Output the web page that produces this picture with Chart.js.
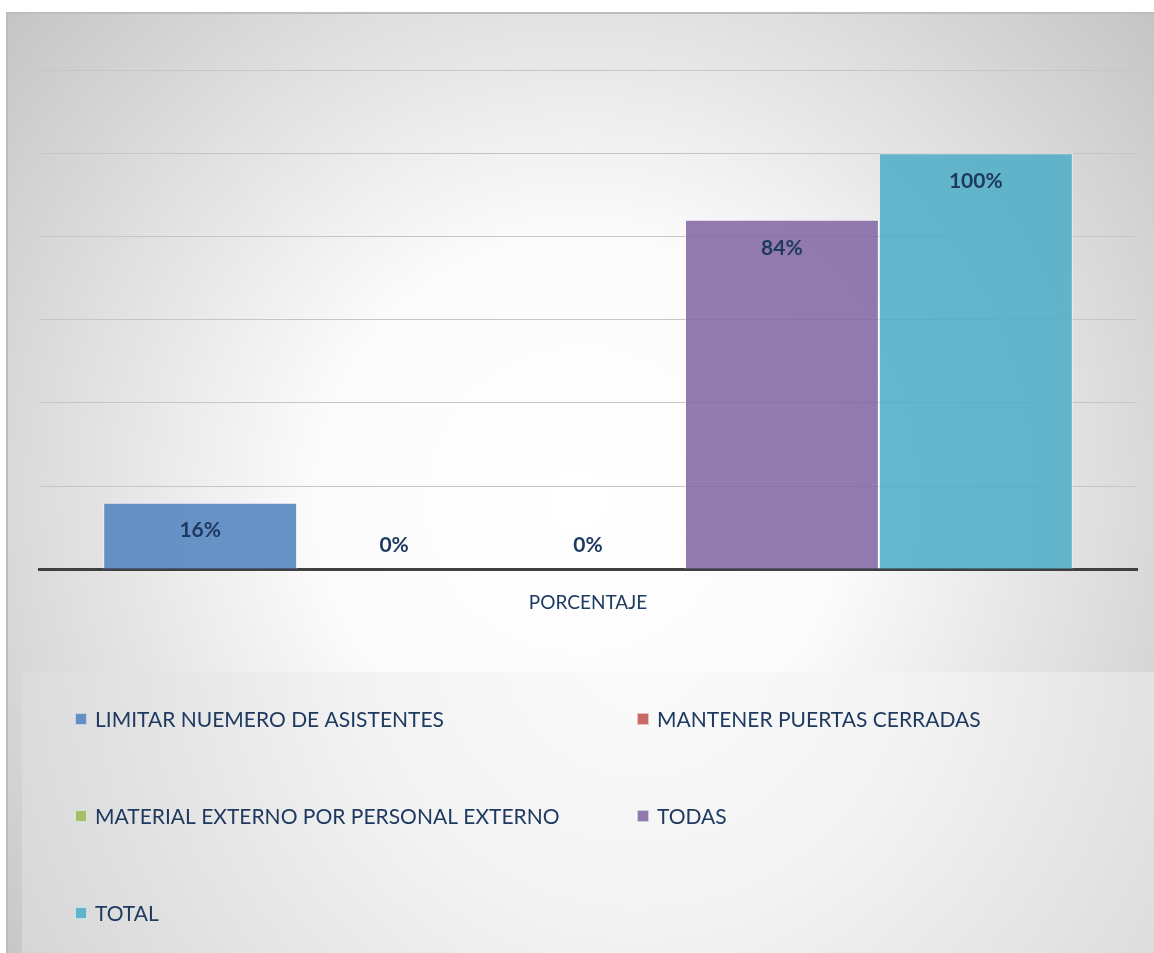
<!DOCTYPE html>
<html>
<head>
<meta charset="utf-8">
<script src="https://cdn.jsdelivr.net/npm/chart.js@4/dist/chart.umd.min.js"></script>
<style>
	html, body { margin: 0; padding: 0; background: #ffffff; }
	#wrap { width: 1154px; height: 953px; position: relative; }
</style>
</head>
<body>
<div id="wrap"><canvas id="chart"></canvas></div>
<script>
const categories = ["PORCENTAJE"];
const series_names = [
	"LIMITAR NUEMERO DE ASISTENTES",
	"MANTENER PUERTAS CERRADAS",
	"MATERIAL EXTERNO POR PERSONAL EXTERNO",
	"TODAS",
	"TOTAL",
];
const series_values = [16, 0, 0, 84, 100];
const series_colors = ["#4f81bd", "#c0504d", "#9bbb59", "#8064a2", "#4bacc6"];
const y_ticks_max = 120;
const y_ticks_step = 20;

const text_color = "#1f3a60";
const font_family = "Lato, 'Open Sans', sans-serif";

// hex -> rgba with alpha, bars are a bit see-through in the original
const with_alpha = (hex, a) => {
	const n = parseInt(hex.slice(1), 16);
	return `rgba(${(n >> 16) & 255}, ${(n >> 8) & 255}, ${n & 255}, ${a})`;
};

/**
 * Paints the grey panel with the soft white glow and the lighter legend box
 */
const background_plugin = {
	id: "background_plugin",
	beforeDraw(chart) {
		const { ctx, width, height } = chart;
		ctx.save();
		ctx.fillStyle = "#ffffff";
		ctx.fillRect(0, 0, width, height);

		const glow = ctx.createRadialGradient(580, 500, 0, 580, 500, 760);
		glow.addColorStop(0, "#ffffff");
		glow.addColorStop(0.35, "#fbfbfb");
		glow.addColorStop(1, "#c4c4c4");
		ctx.fillStyle = glow;
		ctx.fillRect(6, 12, width - 6, height - 12);

		ctx.fillStyle = "#bdbdbd";
		ctx.fillRect(6, 12, width - 6, 2);
		ctx.fillRect(6, 12, 2, height - 12);

		const box = ctx.createRadialGradient(640, 640, 0, 640, 640, 700);
		box.addColorStop(0, "#fbfbfb");
		box.addColorStop(0.4, "#f3f3f3");
		box.addColorStop(1, "#d6d6d6");
		ctx.fillStyle = box;
		ctx.fillRect(22, 672, width - 22, height - 672);
		ctx.restore();
	},
};

/**
 * Writes the value inside / above each bar
 */
const value_labels_plugin = {
	id: "value_labels_plugin",
	afterDatasetsDraw(chart) {
		const { ctx } = chart;
		ctx.save();
		ctx.fillStyle = text_color;
		ctx.font = `bold 21px ${font_family}`;
		ctx.textAlign = "center";
		ctx.textBaseline = "middle";
		chart.data.datasets.forEach((ds, i) => {
			const bar = chart.getDatasetMeta(i).data[0];
			const y = Math.min(bar.y + 28, bar.base - 24);
			ctx.fillText(`${ds.data[0]}%`, bar.x, y);
		});
		ctx.restore();
	},
};

/**
 * Two column legend drawn below the plot
 */
const legend_plugin = {
	id: "legend_plugin",
	afterDraw(chart, args, opts) {
		const { ctx } = chart;
		ctx.save();
		ctx.font = `21px ${font_family}`;
		ctx.textBaseline = "middle";
		ctx.textAlign = "left";
		chart.data.datasets.forEach((ds, i) => {
			const x = opts.columns[i % 2];
			const y = opts.rows[Math.floor(i / 2)];
			ctx.fillStyle = with_alpha(ds.legend_color, 0.85);
			ctx.fillRect(x, y - 6, 12, 12);
			ctx.strokeStyle = "rgba(255,255,255,0.6)";
			ctx.lineWidth = 1;
			ctx.strokeRect(x + 0.5, y - 5.5, 11, 11);
			ctx.fillStyle = text_color;
			ctx.fillText(ds.label, x + 20, y + 1);
		});
		ctx.restore();
	},
};

const canvas = document.getElementById("chart");
canvas.width = 1154;
canvas.height = 953;

new Chart(canvas, {
	type: "bar",
	data: {
		labels: categories,
		datasets: series_names.map((name, i) => ({
			label: name,
			data: [series_values[i]],
			backgroundColor: with_alpha(series_colors[i], 0.85),
			borderColor: "rgba(255,255,255,0.55)",
			borderWidth: 1,
			legend_color: series_colors[i],
		})),
	},
	options: {
		responsive: false,
		animation: false,
		devicePixelRatio: 1,
		layout: {
			padding: { left: 39, right: 17, top: 70, bottom: 317 },
		},
		datasets: {
			bar: {
				categoryPercentage: 0.883,
				barPercentage: 1,
			},
		},
		scales: {
			x: {
				grid: { display: false, drawTicks: false },
				border: { display: true, color: "#404040", width: 3 },
				ticks: {
					color: text_color,
					font: { family: font_family, size: 19 },
					padding: 22,
				},
			},
			y: {
				min: 0,
				max: y_ticks_max,
				ticks: { display: false, stepSize: y_ticks_step },
				grid: { color: "#c6c6c6", lineWidth: 1, drawTicks: false },
				border: { display: false },
			},
		},
		plugins: {
			legend: { display: false },
			tooltip: { enabled: false },
			legend_plugin: {
				columns: [75, 637],
				rows: [719, 816, 913],
			},
		},
	},
	plugins: [background_plugin, value_labels_plugin, legend_plugin],
});
</script>
</body>
</html>
